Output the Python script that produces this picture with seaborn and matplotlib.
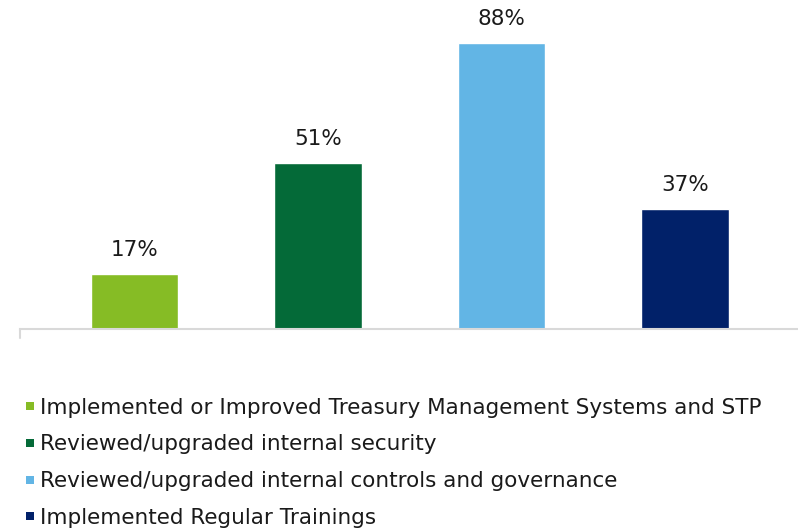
import matplotlib
matplotlib.use("Agg")
import matplotlib.pyplot as plt
from matplotlib.lines import Line2D
import seaborn as sns
import pandas as pd

categories = [
    "Implemented or Improved Treasury Management Systems and STP",
    "Reviewed/upgraded internal security",
    "Reviewed/upgraded internal controls and governance",
    "Implemented Regular Trainings",
]
values = [17, 51, 88, 37]
colors = ["#86BC25", "#046A38", "#62B5E5", "#012169"]

sns.set_theme(style="white")
plt.rcParams["font.family"] = ["DejaVu Sans"]

df = pd.DataFrame({"category": categories, "value": values})

fig = plt.figure(figsize=(7.98, 5.30), dpi=100)
ax = fig.add_axes([20 / 798, 1 - 329 / 530, 778 / 798, 329 / 530])

sns.barplot(data=df, x="category", y="value", hue="category",
            palette=colors, order=categories, hue_order=categories,
            width=0.475, dodge=False, ax=ax, legend=False, saturation=1)

ax.set_xlim(-0.624, 3.616)
ax.set_ylim(0, 101.2)
for c in ax.containers:
    ax.bar_label(c, labels=[f"{v:.0f}%" for v in c.datavalues],
                 padding=10, fontsize=15.5, color="#1a1a1a")

for s in ["top", "right", "left"]:
    ax.spines[s].set_visible(False)
ax.spines["bottom"].set_color("#d9d9d9")
ax.spines["bottom"].set_linewidth(1.5)
ax.set_xticks([])
ax.set_yticks([])
ax.set_xlabel("")
ax.set_ylabel("")
# small tick at left end of axis
ax.plot([-0.624, -0.624], [0, -2.7], color="#d9d9d9", lw=1.5, clip_on=False)

handles = [Line2D([0], [0], marker="s", linestyle="none", markersize=5.2,
                  markerfacecolor=col, markeredgewidth=0) for col in colors]
leg = fig.legend(handles, categories, loc="upper left",
                 bbox_to_anchor=(0.0326, 0.25), frameon=False,
                 fontsize=15.5, handlelength=0.33,
                 handletextpad=0.33, labelspacing=0.78,
                 borderaxespad=0, borderpad=0)
for t in leg.get_texts():
    t.set_color("#1a1a1a")

fig.savefig("out.png", dpi=100)
